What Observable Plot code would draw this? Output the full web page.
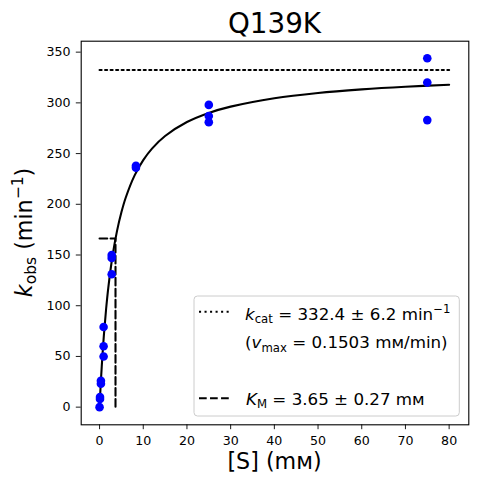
<!DOCTYPE html>
<html>
<head>
<meta charset="utf-8">
<script src="https://cdn.jsdelivr.net/npm/d3@7"></script>
<script src="https://cdn.jsdelivr.net/npm/@observablehq/plot@0.6"></script>
<style>
  html, body { margin: 0; padding: 0; background: white; }
</style>
</head>
<body>
<div id="chart"></div>
<script>
// ---- data ----
const title = "Q139K";
const kcat = 332.4;
const kcatErr = 6.2;
const vmax = 0.1503;
const KM = 3.65;
const KMErr = 0.27;
const maxS = 80;

// measured points: substrate concentration (mM) and k_obs (min^-1)
const substrate = [75, 75, 75, 25, 25, 25, 8.33, 8.33, 2.78, 2.78, 2.78, 0.926, 0.926, 0.926, 0.309, 0.309, 0.103, 0.103, 0];
const kobs      = [344, 320, 283, 298, 287, 281, 238, 236, 150, 147, 131, 79, 60, 50, 26, 23, 10, 8, 0];

// fitted curve
const fitS = [0, 0.25, 0.5, 1, 1.5, 2, 3, 4, 5, 6, 8, 10, 12, 15, 20, 25, 30, 40, 50, 60, 70, 80];
const fitK = [0, 21.3, 40.0, 71.5, 96.8, 117.7, 150.0, 173.8, 192.1, 206.7, 228.3, 243.5, 254.9, 267.3, 281.1, 290.1, 296.3, 304.6, 309.8, 313.3, 315.9, 317.9];

const xTicks = [0, 10, 20, 30, 40, 50, 60, 70, 80];
const yTicks = [0, 50, 100, 150, 200, 250, 300, 350];

// ---- tables ----
const points = substrate.map((s, i) => ({s, k: kobs[i]}));
const fit = fitS.map((s, i) => ({s, k: fitK[i]}));
const kcatLine = [{s: 0, k: kcat}, {s: maxS, k: kcat}];
const kmLine = [{s: 0, k: kcat / 2}, {s: KM, k: kcat / 2}, {s: KM, k: 0}];

const W = 477, H = 484;
const mL = 80.7, mR = 8.7, mT = 40.7, mB = 59.7;
const font = "DejaVu Sans";
const lw = 2.08;
const dotted = "2.08,3.44";
const dashed = "7.7,3.33";

const svg = Plot.plot({
  width: W,
  height: H,
  marginLeft: mL,
  marginRight: mR,
  marginTop: mT,
  marginBottom: mB,
  style: {fontFamily: font, fontSize: "12.6px", background: "white", color: "black", overflow: "visible"},
  x: {domain: [-4.2, 84.5]},
  y: {domain: [-17.4, 360.8]},
  marks: [
    Plot.axisX({ticks: xTicks, tickSize: 4.9, tickPadding: 6, label: null, stroke: "black", strokeWidth: 0.9, fill: "black"}),
    Plot.axisY({ticks: yTicks, tickSize: 4.9, tickPadding: 5.7, label: null, stroke: "black", strokeWidth: 0.9, fill: "black"}),
    Plot.line(kcatLine, {x: "s", y: "k", stroke: "black", strokeWidth: lw, strokeDasharray: dotted}),
    Plot.line(kmLine, {x: "s", y: "k", stroke: "black", strokeWidth: lw, strokeDasharray: dashed}),
    Plot.line(fit, {x: "s", y: "k", stroke: "black", strokeWidth: lw, curve: "catmull-rom"}),
    Plot.dot(points, {x: "s", y: "k", r: 4.3, fill: "#0000ff", stroke: null}),
    Plot.frame({stroke: "black", strokeWidth: 1.1})
  ]
});

document.getElementById("chart").appendChild(svg);

// ---- rich text helper ----
function richText(g, x, y, parts, size, anchor) {
  const t = g.append("text")
    .attr("x", x).attr("y", y)
    .attr("font-family", font)
    .attr("font-size", size)
    .attr("fill", "black")
    .attr("text-anchor", anchor || "start");
  let shift = 0;
  for (const p of parts) {
    const target = p.sub ? 0.2 * size : p.sup ? -0.42 * size : 0;
    const ts = t.append("tspan").text(p.t).attr("dy", target - shift);
    shift = target;
    if (p.sub || p.sup) ts.attr("font-size", size * 0.7);
    if (p.i) ts.attr("font-style", "italic");
  }
  return t;
}

const root = d3.select(svg);
const cx = (mL + (W - mR)) / 2;

// title
root.append("text")
  .attr("x", cx).attr("y", 33)
  .attr("text-anchor", "middle")
  .attr("font-family", font)
  .attr("font-size", 27.8)
  .attr("fill", "black")
  .text(title);

// x label
richText(root, cx, 468.5, [{t: "[S] (mᴍ)"}], 22.2, "middle");

// y label
const yl = root.append("g").attr("transform", `translate(32, ${(mT + (H - mB)) / 2}) rotate(-90)`);
richText(yl, 0, 0, [{t: "k", i: true}, {t: "obs", sub: true}, {t: " (min"}, {t: "−1", sup: true}, {t: ")"}], 22.2, "middle");

// legend
const lg = root.append("g");
lg.append("rect")
  .attr("x", 194).attr("y", 296)
  .attr("width", 265.3).attr("height", 120)
  .attr("rx", 3.5)
  .attr("fill", "white").attr("fill-opacity", 0.8)
  .attr("stroke", "#cccccc").attr("stroke-width", 1);

lg.append("line").attr("x1", 199).attr("x2", 230).attr("y1", 311.7).attr("y2", 311.7)
  .attr("stroke", "black").attr("stroke-width", lw).attr("stroke-dasharray", dotted);
lg.append("line").attr("x1", 199).attr("x2", 230).attr("y1", 398.3).attr("y2", 398.3)
  .attr("stroke", "black").attr("stroke-width", lw).attr("stroke-dasharray", dashed);

const ls = 16.7;
richText(lg, 245, 320, [{t: "k", i: true}, {t: "cat", sub: true}, {t: ` = ${kcat} ± ${kcatErr} min`}, {t: "−1", sup: true}], ls);
richText(lg, 245, 348.3, [{t: "("}, {t: "v", i: true}, {t: "max", sub: true}, {t: ` = ${vmax} mᴍ/min)`}], ls);
richText(lg, 246, 405, [{t: "K", i: true}, {t: "M", sub: true}, {t: ` = ${KM} ± ${KMErr} mᴍ`}], ls);
</script>
</body>
</html>
